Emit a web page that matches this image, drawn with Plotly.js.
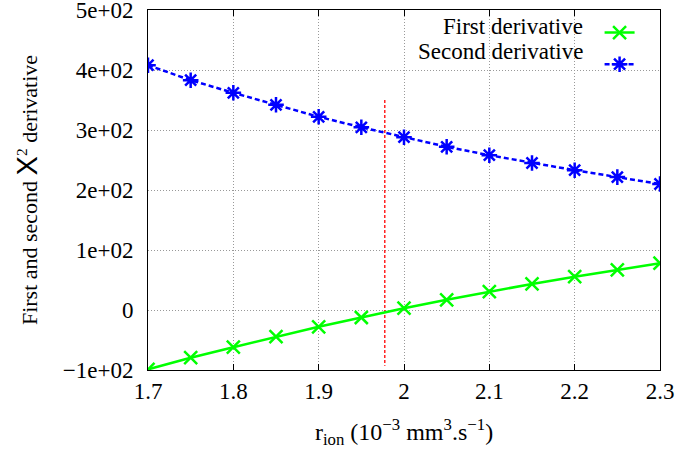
<!DOCTYPE html>
<html>
<head>
<meta charset="utf-8">
<script src="https://cdn.plot.ly/plotly-3.0.1.min.js"></script>
<style>html,body{margin:0;padding:0;background:#fff;}#chart{width:677px;height:451px;}</style>
</head>
<body>
<div id="chart"></div>
<script>
// Data
const rIon = [1.7, 1.75, 1.8, 1.85, 1.9, 1.95, 2.0, 2.05, 2.1, 2.15, 2.2, 2.25, 2.3];
const firstDerivative = [-99, -79.5, -62, -44.5, -28, -12.5, 3, 17, 30.5, 43.5, 55.5, 67, 78];
const secondDerivative = [408, 383, 362, 342, 322, 304.5, 288, 272, 258, 245, 233, 221.5, 210];
const markerX = [1.9775, 1.9775];
const markerY = [350, -93];
const seriesNames = ["First derivative", "Second derivative"];
const yTickVals = [-100, 0, 100, 200, 300, 400, 500];
const yTickText = ["\u22121e+02", "0", "1e+02", "2e+02", "3e+02", "4e+02", "5e+02"];
const xTickVals = [1.7, 1.8, 1.9, 2.0, 2.1, 2.2, 2.3];
const xTickText = ["1.7", "1.8", "1.9", "2", "2.1", "2.2", "2.3"];

const FONT = "Liberation Serif, Times New Roman, serif";
const FS = 23;

const traces = [
  {
    x: markerX, y: markerY, mode: "lines", showlegend: false, hoverinfo: "skip",
    line: {color: "#ff0000", width: 1.3, dash: "3px,2px"}
  },
  {
    x: rIon, y: firstDerivative, mode: "lines+markers", name: " ",
    line: {color: "#00ff00", width: 2.5},
    marker: {symbol: "x-thin-open", size: 13, line: {color: "#00ff00", width: 2.5}, color: "#00ff00"}
  },
  {
    x: rIon, y: secondDerivative, mode: "lines+markers", name: " ",
    line: {color: "#0000ff", width: 2.5, dash: "5px,3px"},
    marker: {symbol: "asterisk-open", size: 13, line: {color: "#0000ff", width: 2.5}, color: "#0000ff"}
  }
];

const axisCommon = {
  showline: true, linecolor: "#000", linewidth: 1, mirror: "ticks",
  ticks: "inside", ticklen: 6, tickcolor: "#000", tickwidth: 1,
  showgrid: true, gridcolor: "#999", griddash: "1px,2px", gridwidth: 1,
  zeroline: false,
  tickfont: {family: FONT, size: FS, color: "#000"}
};

const layout = {
  width: 677, height: 451,
  margin: {l: 148, r: 17, t: 10, b: 81},
  paper_bgcolor: "#fff", plot_bgcolor: "#fff",
  font: {family: FONT, size: FS, color: "#000"},
  xaxis: Object.assign({}, axisCommon, {
    range: [1.7, 2.3], tickmode: "array", tickvals: xTickVals, ticktext: xTickText,
    title: {text: "r<sub>ion</sub> (10<sup>\u22123</sup> mm<sup>3</sup>.s<sup>\u22121</sup>)", font: {family: FONT, size: 24}, standoff: 20}
  }),
  yaxis: Object.assign({}, axisCommon, {
    range: [-100, 500], tickmode: "array", tickvals: yTickVals, ticktext: yTickText,
    ticks: "outside", ticklen: 9, tickcolor: "rgba(0,0,0,0)", mirror: true,
    ticklabeloverflow: "allow",
    title: {text: "First and second <span style=\"font-family:Liberation Sans;font-size:29px\">X</span><sup>2</sup> derivative", font: {family: FONT, size: 22}, standoff: 19}
  }),
  yaxis2: {
    overlaying: "y", side: "left", range: [-100, 500], tickmode: "array", tickvals: yTickVals,
    showticklabels: false, ticks: "inside", ticklen: 6, tickcolor: "#000", tickwidth: 1,
    mirror: "ticks", showline: false, showgrid: false, zeroline: false
  },
  showlegend: true,
  legend: {
    x: 0.882, xanchor: "left", y: 0.995, yanchor: "top",
    bgcolor: "rgba(0,0,0,0)", font: {family: FONT, size: 22}, tracegroupgap: 0
  },
  annotations: [
    {xref: "paper", yref: "paper", x: 0.8535, y: 0.9528, xanchor: "right", yanchor: "middle",
     text: seriesNames[0], showarrow: false, font: {family: FONT, size: FS, color: "#000"}},
    {xref: "paper", yref: "paper", x: 0.8535, y: 0.886, xanchor: "right", yanchor: "middle",
     text: seriesNames[1], showarrow: false, font: {family: FONT, size: FS, color: "#000"}}
  ]
};

Plotly.newPlot("chart", traces, layout, {displayModeBar: false, staticPlot: true});
</script>
</body>
</html>
